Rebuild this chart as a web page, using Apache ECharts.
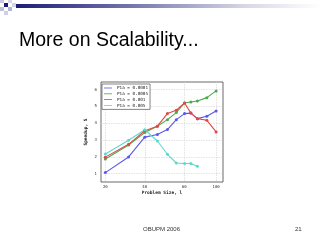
<!DOCTYPE html>
<html><head><meta charset="utf-8">
<script src="https://cdn.jsdelivr.net/npm/echarts@6/dist/echarts.min.js"></script>
<style>html,body{margin:0;padding:0;background:#fff}#c{width:320px;height:240px}</style>
</head><body><div id="c"></div>
<script>
// Data (x in the plot's own axis units)
var xTickValues = [20, 40, 60, 76.2];
var xTickLabels = ['20', '40', '60', '100'];
var yTickValues = [1, 2, 3, 4, 5, 6];
var xs = [20, 31.8, 40, 46.4, 51.5, 56, 60.2, 63.4, 66.7, 71.5, 76.2];
var seriesNames = ['P1a = 0.0001', 'P1a = 0.0005', 'P1a = 0.001', 'P1a = 0.005'];
var blueY = [1.06, 1.99, 3.17, 3.33, 3.62, 4.21, 4.57, 4.60, 4.27, 4.41, 4.73];
var greenY = [1.87, 2.70, 3.44, 3.82, 4.21, 4.63, 5.20, 5.26, 5.32, 5.52, 5.92];
var redY = [1.98, 2.74, 3.55, 3.82, 4.57, 4.77, 5.20, 4.60, 4.27, 4.17, 3.48];
var cyanY = [2.17, 2.98, 3.61, 2.94, 2.15, 1.63, 1.60, 1.60, 1.44];
var colors = ['#5858ee', '#4ea84e', '#e04848', '#5cd8d0'];
var title = 'More on Scalability...';
var footer = 'OBUPM 2006';
var pageNo = '21';

function pairs(x, y) { return y.map(function (v, i) { return [x[i], v]; }); }
var allY = [blueY, greenY, redY, cyanY];

var chart = echarts.init(document.getElementById('c'), null, {renderer: 'canvas'});
var mono = 'DejaVu Sans Mono';
var series = allY.map(function (ys, k) {
  return {
    name: seriesNames[k], type: 'line', data: pairs(xs, ys),
    symbol: 'circle', symbolSize: 3, showSymbol: true,
    lineStyle: {width: 1.1, color: colors[k]},
    itemStyle: {color: colors[k]},
    animation: false
  };
});
var graphics = [
  {type: 'rect', shape: {x: 16, y: 4, width: 304, height: 4},
   style: {fill: new echarts.graphic.LinearGradient(0, 0, 1, 0, [
     {offset: 0, color: '#1c1c78'}, {offset: 0.35, color: '#6e6ea8'}, {offset: 0.75, color: '#d6d6e6'}, {offset: 1, color: '#ffffff'}])}},
  {type: 'rect', shape: {x: 4, y: 3, width: 4, height: 4}, style: {fill: '#1c1c78'}},
  {type: 'rect', shape: {x: 0, y: 0, width: 4, height: 3}, style: {fill: '#c8c8e0'}},
  {type: 'rect', shape: {x: 8, y: 0, width: 4, height: 3}, style: {fill: '#d8d8ea'}},
  {type: 'rect', shape: {x: 0, y: 7, width: 4, height: 4}, style: {fill: '#c0c0dc'}},
  {type: 'rect', shape: {x: 8, y: 7, width: 4, height: 4}, style: {fill: '#b4b4d4'}},
  {type: 'rect', shape: {x: 4, y: 11, width: 4, height: 4}, style: {fill: '#d0d0e4'}},
  {type: 'rect', shape: {x: 12, y: 3, width: 4, height: 4}, style: {fill: '#d4d4e8'}},
  {type: 'text', left: 19, top: 31, style: {text: title, font: '19.5px "Liberation Sans"', fill: '#000'}},
  {type: 'text', left: 143, top: 226, style: {text: footer, font: '6px "Liberation Sans"', fill: '#333'}},
  {type: 'text', left: 295, top: 226, style: {text: pageNo, font: '6px "Liberation Sans"', fill: '#333'}}
];
chart.setOption({
  animation: false,
  color: colors,
  grid: {left: 101, right: 97, top: 82, bottom: 58, show: true, borderColor: '#444', borderWidth: 0.8, backgroundColor: '#fff'},
  legend: {
    orient: 'vertical', left: 102, top: 84, itemWidth: 8, itemHeight: 3, itemGap: 1.8,
    padding: [2, 2, 2, 2], borderColor: '#333', borderWidth: 0.6, backgroundColor: '#fff',
    textStyle: {fontSize: 4.3, fontFamily: mono, color: '#222'},
    icon: 'path://M0,1L10,1L10,2L0,2Z'
  },
  xAxis: {
    type: 'value', min: 17.8, max: 79.7,
    name: 'Problem Size, l', nameLocation: 'middle', nameGap: 7,
    nameTextStyle: {fontSize: 4.5, fontFamily: mono, fontWeight: 'bold', color: '#222'},
    axisLine: {show: false},
    axisTick: {show: false, customValues: xTickValues},
    axisLabel: {customValues: xTickValues, fontSize: 4, fontFamily: mono, color: '#333', margin: 3,
      formatter: function (v) { var i = xTickValues.indexOf(v); return i >= 0 ? xTickLabels[i] : ''; }},
    splitLine: {show: true, lineStyle: {color: '#d0d0d0', width: 0.6, type: [1.5, 1]}}
  },
  yAxis: {
    type: 'value', min: 0.5, max: 6.45,
    name: 'Speedup, S', nameLocation: 'middle', nameGap: 13,
    nameTextStyle: {fontSize: 4.5, fontFamily: mono, fontWeight: 'bold', color: '#222'},
    axisLine: {show: false},
    axisTick: {show: false, customValues: yTickValues},
    axisLabel: {customValues: yTickValues, fontSize: 4, fontFamily: mono, color: '#333', margin: 4},
    splitLine: {show: true, lineStyle: {color: '#d0d0d0', width: 0.6, type: [1.5, 1]}}
  },
  series: series,
  graphic: graphics
});
</script></body></html>
